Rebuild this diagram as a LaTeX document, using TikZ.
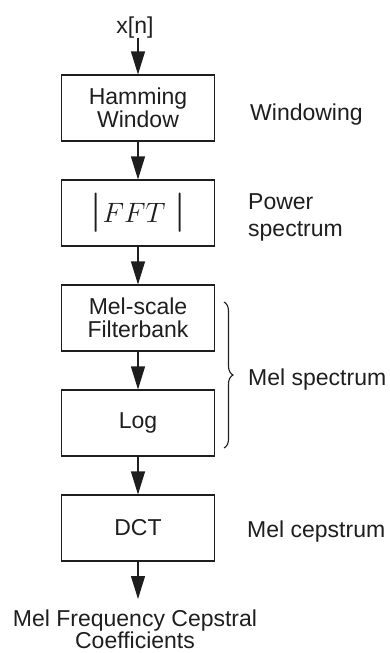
\RequirePackage{fix-cm}
\documentclass[tikz,border=0pt]{standalone}
\usepackage{graphicx}
\usepackage{fontspec}
\setmainfont{Liberation Sans}
\usetikzlibrary{arrows.meta,decorations.pathreplacing}
\newcommand\labfont{\fontsize{23}{23}\selectfont}
\newcommand\tallbar{\scalebox{1.7}[1.4]{$|$}}
\definecolor{ink}{HTML}{1E1E1E}
\begin{document}
\begin{tikzpicture}[x=1pt,y=-1pt,
  every node/.style={text=ink},
  box/.style={draw=ink, line width=1.1pt, minimum width=153pt, minimum height=66pt, inner sep=0pt, align=center, font=\labfont},
  lbl/.style={inner sep=0pt, font=\labfont, anchor=base west},
  arr/.style={draw=ink, line width=1.1pt, -{Triangle[length=23pt,width=14pt]}}]
\useasboundingbox (0,0) rectangle (390,653);
\node[inner sep=0pt, font=\labfont, anchor=base] (x) at (135,33) {x[n]};
\node[box] (ham) at (138,108) {Hamming\\Window};
\node[box] (fft) at (138,213) {\fontsize{28}{28}\selectfont\tallbar$FFT\ $\tallbar};
\node[box] (mel) at (138,318) {Mel-scale\\Filterbank};
\node[box] (log) at (138,423) {Log};
\node[box] (dct) at (138,528) {DCT};
\coordinate (end) at (138,599);
\draw[arr] (ham.north |- x.south) -- (ham.north);
\draw[arr] (ham) -- (fft);
\draw[arr] (fft) -- (mel);
\draw[arr] (mel) -- (log);
\draw[arr] (log) -- (dct);
\draw[arr] (dct) -- (end);
\node[inner sep=0pt, align=center, anchor=north, font=\fontsize{23}{22}\selectfont] (mfcc) at (135,610) {Mel Frequency Cepstral\\Coefficients};
\node[lbl] (win) at (250,120) {Windowing};
\node[inner sep=0pt, align=left, anchor=west, font=\fontsize{23}{27}\selectfont] (pow) at (248,217) {Power\\spectrum};
\node[lbl] (mels) at (248,385) {Mel spectrum};
\node[lbl] (cep) at (247,537) {Mel cepstrum};
\coordinate (bt) at (224,302);
\coordinate (bb) at (224,448);
\draw[ink, line width=1.1pt, decorate, decoration={brace, amplitude=9pt}] (bt) -- (bb);
\end{tikzpicture}
\end{document}
